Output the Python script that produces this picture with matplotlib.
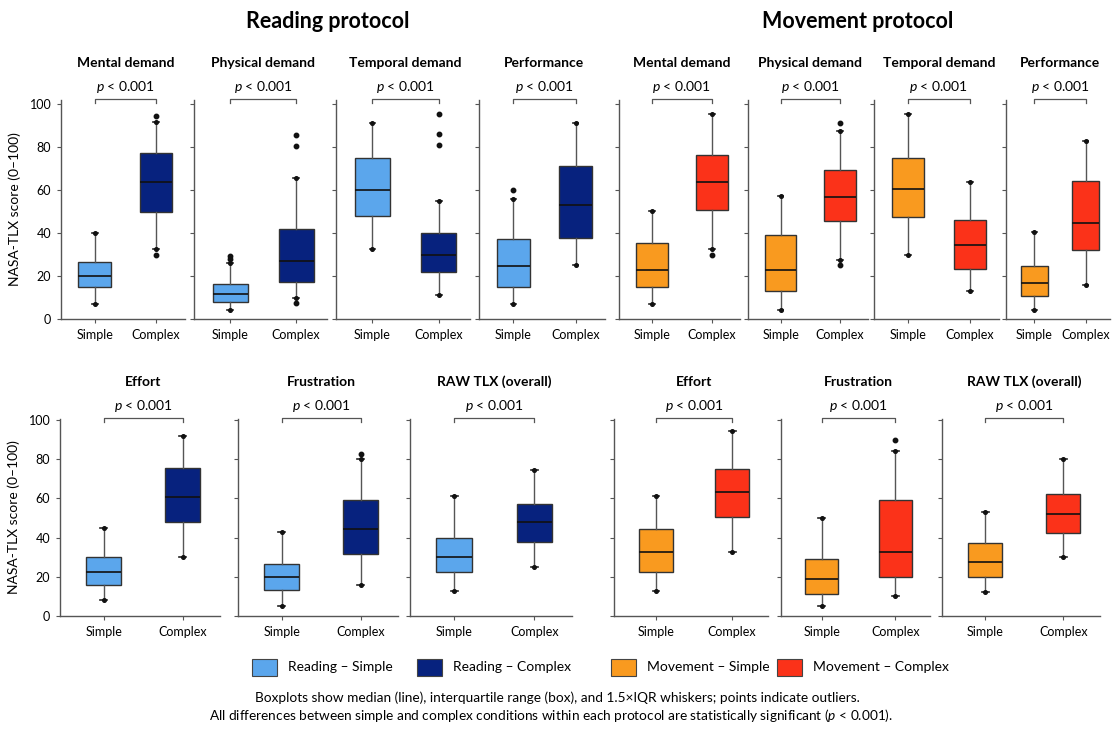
import matplotlib
matplotlib.use("Agg")
import matplotlib.pyplot as plt
from matplotlib.patches import Rectangle

plt.rcParams['font.family'] = ['Lato', 'DejaVu Sans']
plt.rcParams['mathtext.fontset'] = 'custom'
plt.rcParams['mathtext.rm'] = 'Lato'
plt.rcParams['mathtext.it'] = 'Lato:italic'

# data: [whisker low, Q1, median, Q3, whisker high] per metric
metrics = ["Mental demand", "Physical demand", "Temporal demand", "Performance",
           "Effort", "Frustration", "RAW TLX (overall)"]
conditions = ["Simple", "Complex"]

read_simple = [[7, 15, 20, 26.6, 40], [4.3, 7.9, 11.7, 16.1, 26.2],
               [32.6, 48.1, 60.3, 75.1, 91.2], [6.9, 15, 24.6, 37.4, 56.1],
               [8.2, 15.8, 22.3, 29.9, 45], [5.1, 13.3, 19.7, 26.5, 43],
               [12.9, 22.3, 29.9, 39.6, 61.2]]
read_simple_out = [[], [28, 29.5], [], [60.3], [], [], []]

read_complex = [[32.6, 50, 63.6, 77.5, 91.8], [9.6, 17.4, 26.9, 42, 65.7],
                [11.4, 21.8, 30, 40, 55.1], [25.1, 37.7, 53, 71.3, 91.5],
                [30.1, 48.1, 60.9, 75.5, 91.8], [15.6, 31.6, 44.2, 59.2, 80.1],
                [24.8, 37.9, 47.8, 57.1, 74.7]]
read_complex_out = [[30, 94.7], [7.6, 80.8, 85.9], [81, 86, 95.3], [], [], [82.7], []]

move_simple = [[6.9, 14.7, 22.9, 35.4, 50.5], [4.3, 12.9, 22.8, 39.2, 57.4],
               [30, 47.3, 60.6, 75.1, 95.7], [4.3, 10.7, 16.7, 24.6, 40.3],
               [12.9, 22.3, 32.5, 44.2, 61.2], [5.1, 11.1, 19, 28.9, 50.2],
               [12.1, 19.9, 27.7, 37.1, 53.2]]
move_simple_out = [[], [], [], [], [], [], []]

move_complex = [[32.6, 50.9, 63.6, 76.2, 95.7], [27.7, 45.7, 57, 69.3, 87.5],
                [12.9, 23.1, 34.5, 46, 63.6], [15.7, 32, 44.9, 64.1, 82.9],
                [32.5, 50.7, 63.3, 74.8, 94.6], [10.4, 20.1, 32.5, 59.2, 84.4],
                [29.9, 42.2, 51.9, 62.1, 80.1]]
move_complex_out = [[30], [25.1, 91.2], [], [], [], [89.8], []]

c_read_s = "#5ba6ec"
c_read_c = "#07227e"
c_move_s = "#f99a1f"
c_move_c = "#fb3219"

W, H = 1116, 735
fig = plt.figure(figsize=(W / 100, H / 100), dpi=100)

# pixel layout of panels (left, right)
top_x = [(61, 185), (194, 327), (336, 470), (479, 605),
         (619, 740), (748, 868), (874, 999), (1006, 1110)]
bot_x = [(60, 220), (238, 398), (410, 572), (614, 768), (781, 930), (942, 1100)]
top_y = (100, 319)
bot_y = (419, 616)


def make_stats(s, out):
    return dict(whislo=s[0], q1=s[1], med=s[2], q3=s[3], whishi=s[4], fliers=out)


def draw_panel(px, py, ylim, width, m, simple, simple_out, complex_, complex_out,
               cs, cc, show_y):
    l, r = px
    t, b = py
    ax = fig.add_axes([l / W, 1 - b / H, (r - l) / W, (b - t) / H])
    stats = [make_stats(simple[m], simple_out[m]), make_stats(complex_[m], complex_out[m])]
    bp = ax.bxp(stats, positions=[0, 1], widths=width, patch_artist=True,
                capwidths=0.09,
                boxprops=dict(edgecolor="#333333", linewidth=1.0),
                whiskerprops=dict(color="#555555", linewidth=1.0),
                capprops=dict(color="#222222", linewidth=1.2),
                medianprops=dict(color="#111111", linewidth=1.2),
                flierprops=dict(marker="o", markersize=3.2, markerfacecolor="#111111",
                                markeredgecolor="#111111", linestyle="none"))
    for patch, col in zip(bp["boxes"], [cs, cc]):
        patch.set_facecolor(col)
    for i, s in enumerate([simple[m], complex_[m]]):
        ax.plot([i, i], [s[0], s[4]], "o", ms=2.6, color="#111111", zorder=4)
    ax.set_xlim(-0.55, 1.47)
    ax.set_ylim(*ylim)
    ax.set_yticks([0, 20, 40, 60, 80, 100])
    ax.set_xticks([0, 1])
    ax.set_xticklabels(conditions, fontsize=9)
    for sp in ["top", "right"]:
        ax.spines[sp].set_visible(False)
    for sp in ["left", "bottom"]:
        ax.spines[sp].set_color("#555555")
        ax.spines[sp].set_linewidth(1.0)
    ax.tick_params(axis="both", direction="out", length=3, width=0.8, color="#555555",
                   labelsize=9, pad=4)
    if show_y:
        ax.set_ylabel("NASA-TLX score (0–100)", fontsize=10, labelpad=6)
    else:
        ax.set_yticklabels([])
    h = b - t
    # significance bracket
    tr = ax.get_xaxis_transform()
    yb = 1 + 1 / h
    ax.plot([0, 0, 1, 1], [yb - 4 / h, yb, yb, yb - 4 / h], color="#555555", lw=0.9,
            transform=tr, clip_on=False)
    ax.text(0.5, 1 + 13 / h, r"$p$ < 0.001", transform=tr, ha="center", va="center",
            fontsize=10)
    ax.text(0.5, 1 + 37 / h, metrics[m], transform=tr, ha="center", va="center",
            fontsize=10, fontweight="bold")
    return ax


for i in range(4):
    draw_panel(top_x[i], top_y, (0, 102), 0.53, i, read_simple, read_simple_out,
               read_complex, read_complex_out, c_read_s, c_read_c, i == 0)
    draw_panel(top_x[i + 4], top_y, (0, 102), 0.53, i, move_simple, move_simple_out,
               move_complex, move_complex_out, c_move_s, c_move_c, False)

for i in range(3):
    draw_panel(bot_x[i], bot_y, (0, 100.5), 0.44, i + 4, read_simple, read_simple_out,
               read_complex, read_complex_out, c_read_s, c_read_c, i == 0)
    draw_panel(bot_x[i + 3], bot_y, (0, 100.5), 0.44, i + 4, move_simple, move_simple_out,
               move_complex, move_complex_out, c_move_s, c_move_c, False)

fig.text(328 / W, 1 - 22 / H, "Reading protocol", ha="center", va="center",
         fontsize=15.5, fontweight="bold")
fig.text(858 / W, 1 - 22 / H, "Movement protocol", ha="center", va="center",
         fontsize=15.5, fontweight="bold")

# legend
legend_labels = ["Reading – Simple", "Reading – Complex", "Movement – Simple", "Movement – Complex"]
legend_colors = [c_read_s, c_read_c, c_move_s, c_move_c]
legend_x = [252, 417, 611, 777]
for lx, lab, col in zip(legend_x, legend_labels, legend_colors):
    fig.patches.append(Rectangle((lx / W, 1 - 676 / H), 25 / W, 17 / H, transform=fig.transFigure,
                                 facecolor=col, edgecolor="#444444", linewidth=0.8))
    fig.text((lx + 36) / W, 1 - 667 / H, lab, ha="left", va="center", fontsize=10)

fig.text(557 / W, 1 - 698 / H,
         "Boxplots show median (line), interquartile range (box), and 1.5×IQR whiskers; "
         "points indicate outliers.", ha="center", va="center", fontsize=9.8)
fig.text(551 / W, 1 - 716 / H,
         "All differences between simple and complex conditions within each protocol are "
         r"statistically significant ($p$ < 0.001).", ha="center", va="center", fontsize=9.8)

fig.savefig("out.png", dpi=100, facecolor="white")
